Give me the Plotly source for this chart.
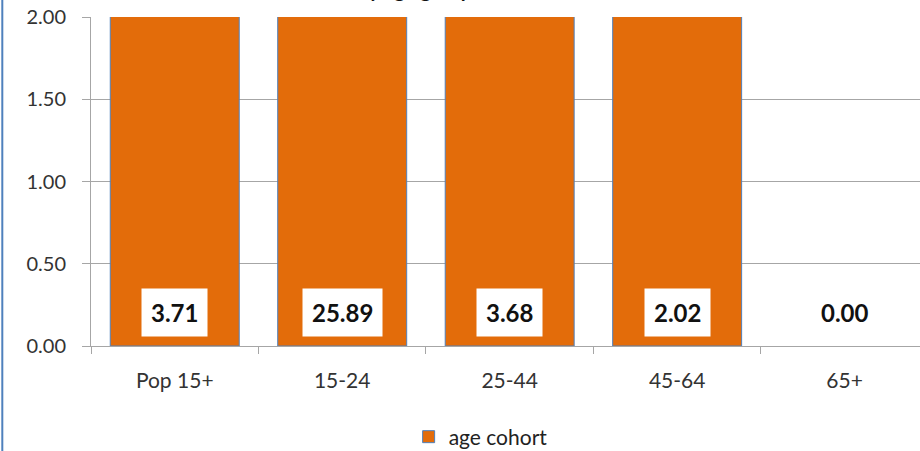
import plotly.graph_objects as go

categories = ["Pop 15+", "15-24", "25-44", "45-64", "65+"]
values = [3.71, 25.89, 3.68, 2.02, 0.00]
value_labels = ["3.71", "25.89", "3.68", "2.02", "0.00"]
series_name = "age cohort"
title_text = "Share of the total by age group, 2012"
y_ticks = [0, 0.5, 1.0, 1.5, 2.0]
y_tick_labels = ["0.00", "0.50", "1.00", "1.50", "2.00"]

FONT = "Lato"
fig = go.Figure()
fig.add_trace(go.Bar(
    x=categories, y=values, name=series_name,
    marker=dict(color="#E36C0A",
                line=dict(color="#4F81BD", width=[1 if v > 0 else 0 for v in values])),
    width=0.77, showlegend=True,
))

for c, lab in zip(categories, value_labels):
    fig.add_annotation(
        x=c, y=0, xref="x", yref="y", text="<b>" + lab + "</b>",
        showarrow=False, yanchor="bottom", yshift=9,
        bgcolor="white", borderpad=9,
        font=dict(family=FONT, size=24, color="#111111"),
    )

fig.add_annotation(
    x=0.129, y=1.0, xref="paper", yref="paper", text="<b>" + title_text + "</b>",
    showarrow=False, xanchor="left", yanchor="bottom", yshift=14,
    font=dict(family=FONT, size=20, color="#111111"),
)

fig.add_shape(type="line", xref="paper", yref="paper",
              x0=-0.107, x1=-0.107, y0=-0.4, y1=1.1,
              line=dict(color="#4F81BD", width=2))

fig.update_layout(
    width=920, height=451,
    margin=dict(l=91, r=0, t=17, b=105, autoexpand=False),
    paper_bgcolor="white", plot_bgcolor="white",
    font=dict(family=FONT, size=19, color="#333333"),
    bargap=0.23,
    legend=dict(orientation="h", x=0.47, xanchor="center", y=0.031, yanchor="middle",
                yref="container",
                font=dict(family=FONT, size=21, color="#222222")),
    xaxis=dict(range=[-0.5, 4.45], showline=True, linecolor="#A6A6A6", linewidth=1,
               automargin=False, ticklabelstandoff=16,
               ticks="outside", tickson="boundaries", ticklen=7, tickcolor="#A6A6A6",
               showgrid=False, tickfont=dict(family=FONT, size=21, color="#333333")),
    yaxis=dict(range=[0, 2.0], tickvals=y_ticks, ticktext=y_tick_labels,
               automargin=False, ticklabeloverflow="allow",
               showline=True, linecolor="#A6A6A6", linewidth=1,
               ticks="outside", ticklen=8, tickcolor="#A6A6A6",
               showgrid=True, gridcolor="#A6A6A6", gridwidth=1, zeroline=False,
               ticklabelstandoff=12,
               tickfont=dict(family=FONT, size=20, color="#333333")),
)

fig.write_html("out.html", config={"displayModeBar": False},
               post_script="document.body.style.margin='0px';document.body.style.overflow='hidden';")
